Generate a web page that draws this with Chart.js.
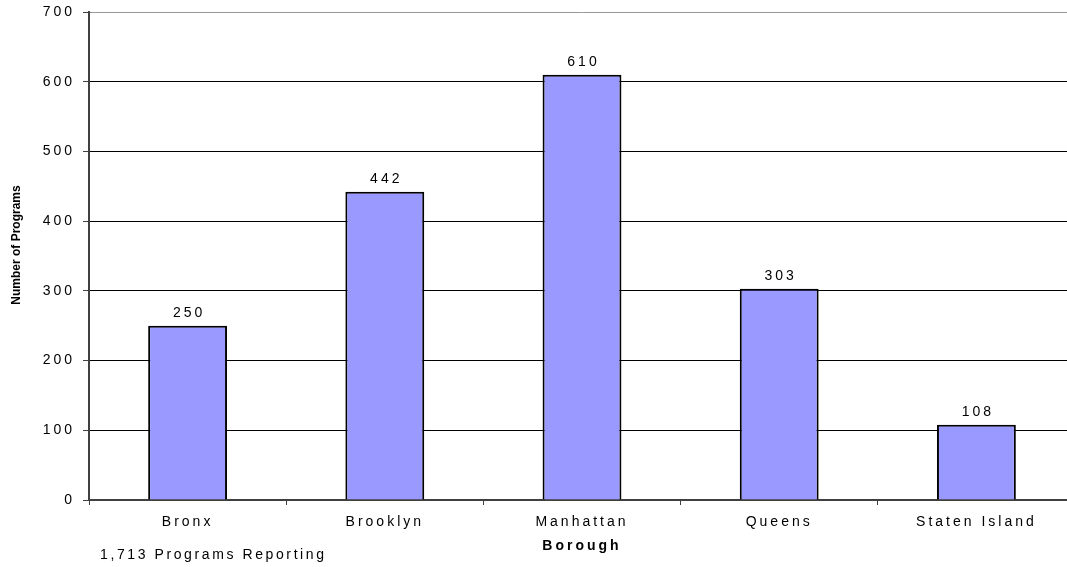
<!DOCTYPE html>
<html>
<head>
<meta charset="utf-8">
<script src="https://cdn.jsdelivr.net/npm/chart.js@4.4.1/dist/chart.umd.min.js"></script>
<style>
    html, body { margin: 0; padding: 0; background: #fff; overflow: hidden; }
    #chart { display: block; }
</style>
</head>
<body>
<!-- canvas is a bit wider than the window: the original crops the last category on the right -->
<canvas id="chart" width="1076" height="567"></canvas>
<script>
// Programs by borough
const boroughs = ['Bronx', 'Brooklyn', 'Manhattan', 'Queens', 'Staten Island'];
const programCounts = [250, 442, 610, 303, 108];
const yTicks = [0, 100, 200, 300, 400, 500, 600, 700];
const footnote = '1,713 Programs Reporting';

const FONT = "'Liberation Sans', Arial, sans-serif";
const SPACING = '3px';

// letter spacing for axis text, labels above bars + footnote
const barLabels = {
    id: 'barLabels',
    beforeInit(chart) {
        chart.ctx.letterSpacing = SPACING;
    },
    beforeDraw(chart) {
        chart.ctx.letterSpacing = SPACING;
    },
    afterDatasetsDraw(chart) {
        const ctx = chart.ctx;
        const meta = chart.getDatasetMeta(0);
        ctx.save();
        ctx.letterSpacing = SPACING;
        ctx.font = '14px ' + FONT;
        ctx.fillStyle = '#000';
        ctx.textAlign = 'center';
        ctx.textBaseline = 'bottom';
        meta.data.forEach((bar, i) => {
            ctx.fillText(String(programCounts[i]), bar.x + 1.5, bar.y - 6);
        });
        ctx.letterSpacing = '2.6px';
        ctx.textAlign = 'left';
        ctx.textBaseline = 'middle';
        ctx.fillText(footnote, 100, 555);
        ctx.restore();
    }
};

// y title without spacing
const plainTitle = {
    id: 'plainTitle',
    afterDraw(chart) {
        const ctx = chart.ctx;
        ctx.save();
        ctx.letterSpacing = '0px';
        ctx.font = 'bold 12px ' + FONT;
        ctx.fillStyle = '#000';
        ctx.textAlign = 'center';
        ctx.textBaseline = 'middle';
        ctx.translate(17, 245);
        ctx.rotate(-Math.PI / 2);
        ctx.fillText('Number of Programs', 0, 0);
        ctx.restore();
    }
};

new Chart(document.getElementById('chart').getContext('2d'), {
    type: 'bar',
    data: {
        labels: boroughs,
        datasets: [{
            data: programCounts,
            backgroundColor: '#9999FF',
            borderColor: '#000',
            borderWidth: 2,
            barPercentage: 0.4,
            categoryPercentage: 1
        }]
    },
    options: {
        responsive: false,
        animation: false,
        layout: { padding: { top: 12, right: 1, left: 0, bottom: 0 } },
        plugins: {
            legend: { display: false },
            tooltip: { enabled: false }
        },
        scales: {
            x: {
                afterFit(scale) { scale.height = 67; },
                grid: {
                    offset: true,
                    drawOnChartArea: false,
                    drawTicks: true,
                    tickLength: 5,
                    color: '#404040'
                },
                border: { color: '#404040', width: 2 },
                ticks: {
                    color: '#000',
                    padding: 9,
                    maxRotation: 0,
                    font: { family: FONT, size: 14 }
                },
                title: {
                    display: true,
                    text: 'Borough',
                    color: '#000',
                    padding: { top: 4, bottom: 12 },
                    font: { family: FONT, size: 14, weight: 'bold' }
                }
            },
            y: {
                min: 0,
                max: 700,
                afterFit(scale) {
                    scale.width = 89;
                    scale.paddingTop = 0;
                    scale.paddingBottom = 0;
                },
                afterBuildTicks(scale) {
                    scale.ticks = yTicks.map(v => ({ value: v }));
                },
                grid: {
                    color: ctx => (ctx.tick && ctx.tick.value === 700) ? '#999' : '#000',
                    lineWidth: 1,
                    tickLength: 6,
                    tickColor: '#404040'
                },
                border: { color: '#404040', width: 2 },
                ticks: {
                    color: '#000',
                    padding: 8,
                    font: { family: FONT, size: 14 }
                }
            }
        }
    },
    plugins: [barLabels, plainTitle]
});
</script>
</body>
</html>
